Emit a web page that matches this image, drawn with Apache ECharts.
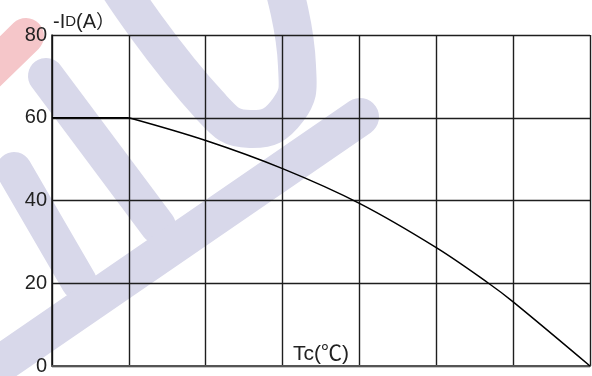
<!DOCTYPE html>
<html>
<head>
<meta charset="utf-8">
<script src="https://cdn.jsdelivr.net/npm/echarts@6/dist/echarts.min.js"></script>
<style>
html,body{margin:0;padding:0;background:#fff;}
#c{width:592px;height:376px;}
</style>
</head>
<body>
<div id="c"></div>
<script>
// Data
var tcValues = [0, 25, 50, 75, 100, 125, 142, 150, 175];
var idValues = [60, 60, 54.5, 47.7, 39.3, 28.6, 20, 15.5, 0];
var yTicks = [0, 20, 40, 60, 80];
var xTicks = [0, 25, 50, 75, 100, 125, 150, 175];

var flatData = [];
var curveData = [];
for (var i = 0; i < tcValues.length; i++) {
  if (i <= 1) flatData.push([tcValues[i], idValues[i]]);
  if (i >= 1) curveData.push([tcValues[i], idValues[i]]);
}

var FONT = '"Liberation Sans", Arial, "Noto Sans CJK SC", sans-serif';
var BLUE = 'rgb(216,216,234)';
var RED = 'rgb(245,198,201)';

function stroke(points, w, color, cap, smooth) {
  return {
    type: 'polyline', silent: true, z: -10,
    shape: { points: points, smooth: smooth || 0 },
    style: { stroke: color, lineWidth: w, fill: null, lineCap: cap || 'butt', lineJoin: 'round' }
  };
}

var chart = echarts.init(document.getElementById('c'), null, { renderer: 'canvas' });
chart.setOption({
  animation: false,
  backgroundColor: '#fff',
  graphic: [
    stroke([[-15, 76], [26, 36]], 36, RED, 'round'),
    stroke([[46, 76], [158, 226]], 36, BLUE, 'round'),
    stroke([[14, 170], [79, 282]], 36, BLUE, 'round'),
    stroke([[-20, 378], [360, 117]], 38, BLUE, 'round'),
    stroke([[118, -14], [212, 108], [250, 129], [288, 110], [297, 66], [283, -14]], 38, BLUE, 'butt', 0.5)
  ],
  grid: { left: 52, right: 2, top: 35, bottom: 5, containLabel: false },
  xAxis: {
    type: 'value', min: xTicks[0], max: xTicks[xTicks.length - 1], interval: 25,
    name: 'Tc(℃)',
    nameLocation: 'middle', nameGap: -12, nameMoveOverlap: false,
    nameTextStyle: { fontFamily: FONT, fontSize: 21, color: '#222', verticalAlign: 'middle' },
    axisLine: { show: true, lineStyle: { color: '#555', width: 2 } },
    axisTick: { show: false },
    axisLabel: { show: false },
    splitLine: { show: true, lineStyle: { color: '#1e1e1e', width: 1.4 } }
  },
  yAxis: {
    type: 'value', min: yTicks[0], max: yTicks[yTicks.length - 1], interval: 20,
    name: '{a|-I}{b|D}{a|(A}{c|）}',
    nameLocation: 'end', nameGap: 3, nameMoveOverlap: false,
    nameTextStyle: {
      align: 'left', verticalAlign: 'bottom', padding: [0, 0, 0, 1],
      rich: {
        a: { fontFamily: FONT, fontSize: 20, color: '#222' },
        b: { fontFamily: FONT, fontSize: 15, color: '#222' },
        c: { fontFamily: '"Noto Sans CJK SC", sans-serif', fontSize: 19, color: '#222' }
      }
    },
    axisLine: { show: true, lineStyle: { color: '#111', width: 1.5 } },
    axisTick: { show: false },
    axisLabel: { fontFamily: FONT, fontSize: 20, color: '#222', margin: 5 },
    splitLine: { show: true, lineStyle: { color: '#1e1e1e', width: 1.4 } }
  },
  series: [
    {
      type: 'line', data: flatData, symbol: 'none', smooth: false,
      lineStyle: { color: '#000', width: 1.5 }, z: 3
    },
    {
      type: 'line', data: curveData, symbol: 'none', smooth: 0.35,
      lineStyle: { color: '#000', width: 1.5 }, z: 3
    }
  ]
});
</script>
</body>
</html>
